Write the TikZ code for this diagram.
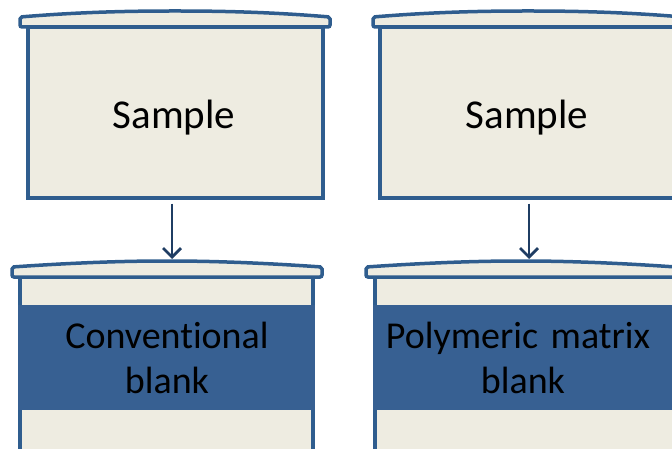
\documentclass[tikz,border=0pt]{standalone}
\usepackage{fontspec}
\setmainfont{Carlito}[RawFeature={-liga}]
\usetikzlibrary{arrows.meta}
\definecolor{cream}{HTML}{EEECE1}
\definecolor{rimblue}{HTML}{2F5D8E}
\definecolor{bandblue}{HTML}{376092}
\definecolor{arrowblue}{HTML}{1F3D63}
\tikzset{
  body/.style={draw=rimblue, fill=cream, line width=3.5pt},
  rimshape/.style={draw=rimblue, fill=cream, line width=3.5pt, rounded corners=2pt},
  band/.style={fill=bandblue, draw=none},
  lbl/.style={font=\fontsize{38}{45}\selectfont, align=center, text=black},
  big/.style={font=\fontsize{41}{48}\selectfont},
  flow/.style={draw=arrowblue, line width=2.8pt, -{Straight Barb[length=9pt,width=18pt,line width=2.8pt]}}
}
\begin{document}
\begin{tikzpicture}[x=1pt,y=-1pt]
\useasboundingbox (0,0) rectangle (672,449);
\clip (0,0) rectangle (672,449);
% top left container
\node[body, minimum width=295pt, minimum height=171pt, inner sep=0pt] (s1) at (175.5,112.5) {};
\draw[rimshape] (20,27) -- (20,17) .. controls (80,12) and (130,11) .. (175,11) .. controls (220,11) and (270,12) .. (330,17) -- (330,27) -- cycle;
\node[lbl, big] (t1) at (174,118) {Sample};
% top right container
\node[body, minimum width=295pt, minimum height=171pt, inner sep=0pt] (s2) at (527.5,112.5) {};
\draw[rimshape] (373,27) -- (373,17) .. controls (433,12) and (483,11) .. (528,11) .. controls (573,11) and (623,12) .. (683,17) -- (683,27) -- cycle;
\node[lbl, big] (t2) at (527,118) {Sample};
% bottom left container
\node[body, minimum width=293pt, minimum height=193pt, inner sep=0pt] (b1) at (166.5,373.5) {};
\fill[band] (18.25,305) rectangle (314.75,410);
\draw[rimshape] (12,277) -- (12,267) .. controls (70,263) and (120,261) .. (167,261) .. controls (214,261) and (264,263) .. (322,267) -- (322,277) -- cycle;
\coordinate (r1) at (172,259);
\node[lbl, text width=290pt] (c1) at (167,357.5) {Conventional\\blank};
% bottom right container
\node[body, minimum width=301pt, minimum height=193pt, inner sep=0pt] (b2) at (525.5,373.5) {};
\fill[band] (373.25,305) rectangle (676,410);
\draw[rimshape] (366,277) -- (366,267) .. controls (424,263) and (474,261) .. (521,261) .. controls (568,261) and (618,263) .. (676,267) -- (676,277) -- cycle;
\coordinate (r2) at (529,259);
\node[lbl, text width=300pt] (c2) at (518,357.5) {Polymeric matrix\\\hspace*{10pt}blank};
% arrows
\draw[flow] (s1.south -| r1) ++(0,4) -- (r1);
\draw[flow] (s2.south -| r2) ++(0,4) -- (r2);
\end{tikzpicture}
\end{document}
